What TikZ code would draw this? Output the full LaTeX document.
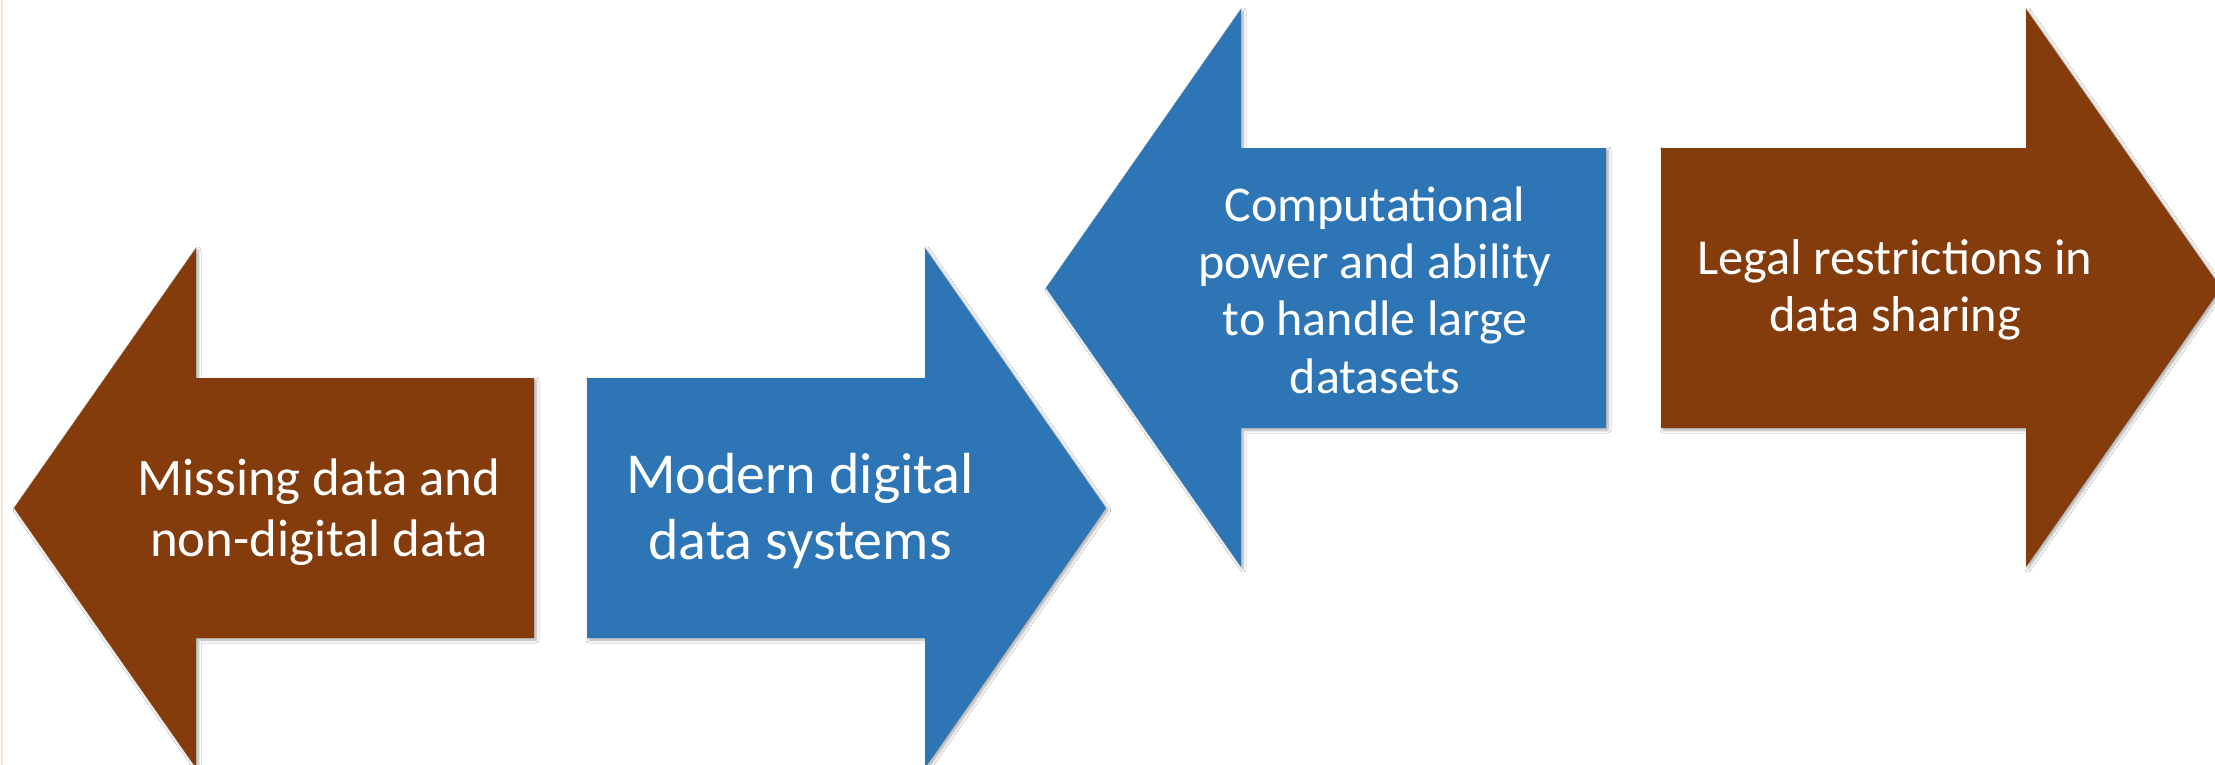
\documentclass[tikz,border=0pt]{standalone}
\usepackage{fontspec}
\setmainfont{Carlito}
\usetikzlibrary{shadows.blur}
\definecolor{rustbrown}{RGB}{132,60,12}
\definecolor{steelblue}{RGB}{46,117,182}
\definecolor{edgepeach}{RGB}{252,228,214}
\tikzset{
  bigarrow/.style = {blur shadow = {shadow xshift = 1pt, shadow yshift = -1pt,
    shadow blur radius = 1.5pt, shadow blur steps = 6, shadow opacity = 35}},
  brownarrow/.style = {bigarrow, fill = rustbrown},
  bluearrow/.style = {bigarrow, fill = steelblue},
  arrowtext/.style = {text = white, align = center, inner sep = 0}
}

\begin{document}
\begin{tikzpicture}[x=0.5pt, y=-0.5pt]
    \useasboundingbox (0,0) rectangle (2215,765);
    \fill [white] (0,0) rectangle (2215,765);
    \clip (0,0) rectangle (2215,765);
    \draw [edgepeach, line width = 1pt] (1.5,0) -- (1.5,765);
    % lower row
    \fill [brownarrow] (14,508) -- (196,248) -- (196,378) -- (534,378)
      -- (534,638) -- (196,638) -- (196,768) -- cycle;
    \fill [bluearrow] (587,378) -- (925,378) -- (925,248) -- (1106,508)
      -- (925,768) -- (925,638) -- (587,638) -- cycle;
    % upper row
    \fill [bluearrow] (1046,288) -- (1241,9) -- (1241,148) -- (1606,148)
      -- (1606,428) -- (1241,428) -- (1241,567) -- cycle;
    \fill [brownarrow] (1661,148) -- (2026,148) -- (2026,9) -- (2221,288)
      -- (2026,567) -- (2026,428) -- (1661,428) -- cycle;
    % texts
    \node [arrowtext, font = \fontsize{26.4}{30.75}\selectfont] (missing) at (319,512)
      {Missing data and\\non-digital data};
    \node [arrowtext, font = \fontsize{29}{33}\selectfont] (modern) at (800,511)
      {Modern digital\\data systems};
    \node [arrowtext, font = \fontsize{25}{28.7}\selectfont] (compute) at (1375,290)
      {Computational\\power and ability\\to handle large\\datasets};
    \node [arrowtext, font = \fontsize{25.2}{28.3}\selectfont] (legal) at (1895,290)
      {Legal restrictions in\\data sharing};
  \end{tikzpicture}
\end{document}
